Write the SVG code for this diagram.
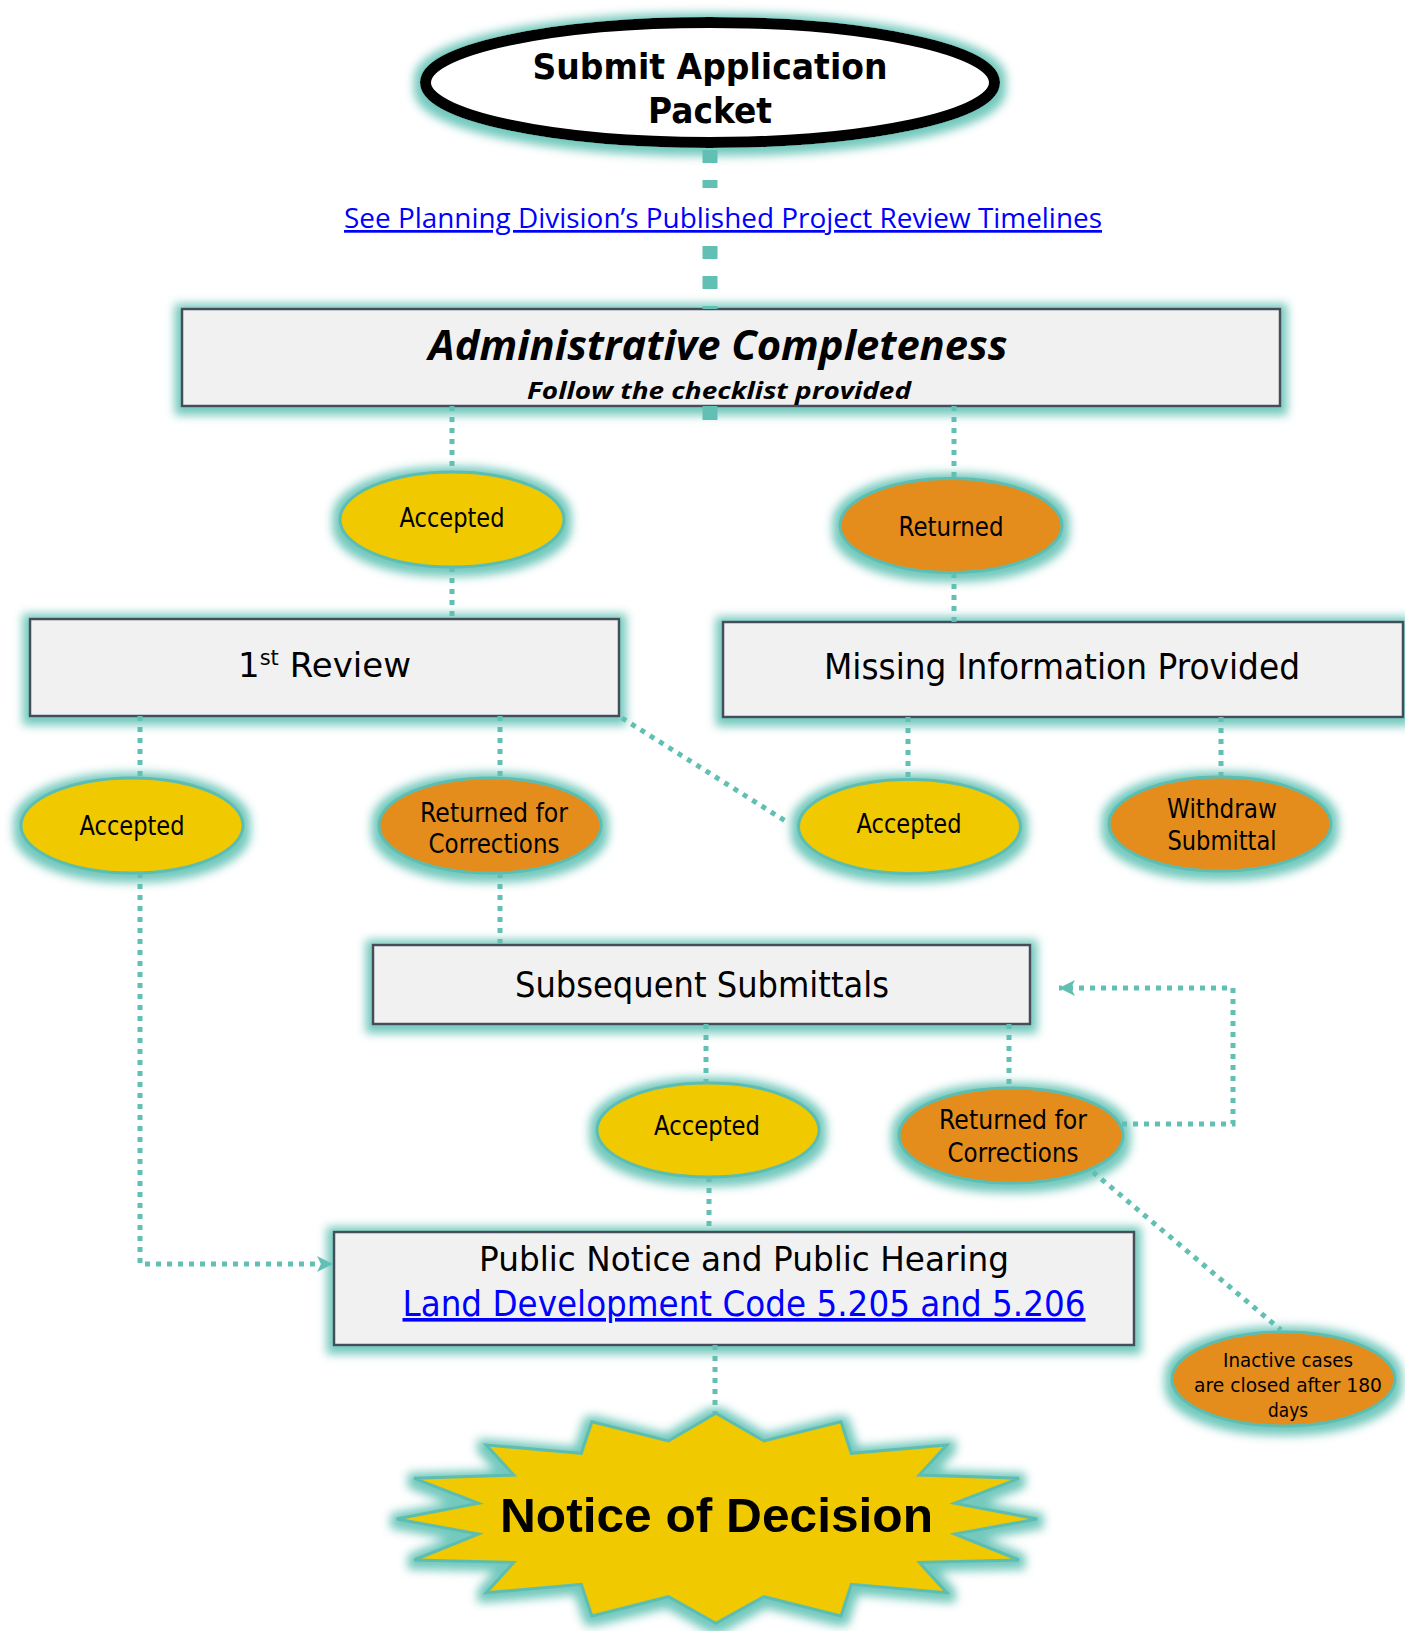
<svg xmlns="http://www.w3.org/2000/svg" width="1405" height="1631" viewBox="0 0 1405 1631">
<defs>
  <filter id="glow" x="-10%" y="-40%" width="120%" height="180%">
    <feMorphology in="SourceAlpha" operator="dilate" radius="6" result="d"/>
    <feGaussianBlur in="d" stdDeviation="5" result="b"/>
    <feOffset in="b" dx="0" dy="2" result="o"/>
    <feFlood flood-color="#6cc6ba" flood-opacity="0.95"/>
    <feComposite in2="o" operator="in" result="g"/>
    <feMerge><feMergeNode in="g"/><feMergeNode in="SourceGraphic"/></feMerge>
  </filter>
  <marker id="arrow" viewBox="0 0 16 16" refX="16" refY="8" markerWidth="16" markerHeight="16" markerUnits="userSpaceOnUse" orient="auto">
    <path d="M0,0 L16,8 L0,16 L4,8 Z" fill="#62bfb3"/>
  </marker>
  <style>
    .box { fill:#f1f1f1; stroke:#454e5a; stroke-width:2.5; filter:url(#glow); }
    .yel { fill:#f0c900; stroke:#5dbdb1; stroke-width:3; filter:url(#glow); }
    .org { fill:#e48d1a; stroke:#5dbdb1; stroke-width:3; filter:url(#glow); }
    .lbl { font-family:"DejaVu Sans","Liberation Sans",sans-serif; fill:#000; text-anchor:middle; }
    .cal { font-family:"Open Sans","Liberation Sans",sans-serif; text-anchor:middle; }
    .link { fill:#0000ff; text-decoration:underline; }
    .conn { fill:none; stroke:#62bfb3; stroke-width:5; stroke-dasharray:5 6; }
    .thick { fill:none; stroke:#62bfb3; stroke-width:15; stroke-dasharray:13 17; }
  </style>
</defs>
<rect width="1405" height="1631" fill="#ffffff"/>

<g id="nodes">
  <g id="submit">
    <ellipse cx="710" cy="82.5" rx="284.5" ry="60" fill="#ffffff" stroke="#000" stroke-width="11" filter="url(#glow)"/>
    <text class="lbl" x="710" y="79" font-size="35" font-weight="bold" textLength="355" lengthAdjust="spacingAndGlyphs">Submit Application</text>
    <text class="lbl" x="710" y="123" font-size="35" font-weight="bold" textLength="124" lengthAdjust="spacingAndGlyphs">Packet</text>
  </g>
  <g id="timelines-link">
    <text class="cal link" x="723" y="228" font-size="27" textLength="758" lengthAdjust="spacingAndGlyphs">See Planning Division’s Published Project Review Timelines</text>
  </g>
  <g id="admin">
    <rect class="box" x="182" y="309" width="1098" height="97"/>
    <text class="cal" x="718" y="360" font-size="41" font-weight="bold" font-style="italic" textLength="579" lengthAdjust="spacingAndGlyphs">Administrative Completeness</text>
    <text class="cal" x="719" y="399" font-size="24" font-weight="bold" font-style="italic" textLength="384" lengthAdjust="spacingAndGlyphs">Follow the checklist provided</text>
  </g>
  <g id="accepted1">
    <ellipse class="yel" cx="452" cy="519.5" rx="112" ry="47.5"/>
    <text class="lbl" x="452" y="527" font-size="26" textLength="105" lengthAdjust="spacingAndGlyphs">Accepted</text>
  </g>
  <g id="returned1">
    <ellipse class="org" cx="951" cy="525.5" rx="111" ry="47"/>
    <text class="lbl" x="951" y="536" font-size="26" textLength="105" lengthAdjust="spacingAndGlyphs">Returned</text>
  </g>
  <g id="first-review">
    <rect class="box" x="30" y="619" width="589" height="97"/>
    <text x="238" y="677" font-family="'DejaVu Sans','Liberation Sans',sans-serif" font-size="34">1<tspan dy="-12" font-size="21">st</tspan><tspan dy="12" font-size="34"> Review</tspan></text>
  </g>
  <g id="missing-info">
    <rect class="box" x="723" y="622" width="680" height="95"/>
    <text class="lbl" x="1062" y="679" font-size="35" textLength="476" lengthAdjust="spacingAndGlyphs">Missing Information Provided</text>
  </g>
  <g id="accepted-left">
    <ellipse class="yel" cx="132" cy="825.5" rx="111" ry="47.5"/>
    <text class="lbl" x="132" y="835" font-size="26" textLength="105" lengthAdjust="spacingAndGlyphs">Accepted</text>
  </g>
  <g id="returned-corrections-1">
    <ellipse class="org" cx="490" cy="825.5" rx="111" ry="47.5"/>
    <text class="lbl" x="494" y="822" font-size="26" textLength="148" lengthAdjust="spacingAndGlyphs">Returned for</text>
    <text class="lbl" x="494" y="853" font-size="26" textLength="131" lengthAdjust="spacingAndGlyphs">Corrections</text>
  </g>
  <g id="accepted-right">
    <ellipse class="yel" cx="909.5" cy="826.5" rx="111" ry="47"/>
    <text class="lbl" x="909" y="833" font-size="26" textLength="105" lengthAdjust="spacingAndGlyphs">Accepted</text>
  </g>
  <g id="withdraw">
    <ellipse class="org" cx="1220" cy="824" rx="111" ry="47"/>
    <text class="lbl" x="1222" y="818" font-size="26" textLength="110" lengthAdjust="spacingAndGlyphs">Withdraw</text>
    <text class="lbl" x="1222" y="850" font-size="26" textLength="109" lengthAdjust="spacingAndGlyphs">Submittal</text>
  </g>
  <g id="subsequent">
    <rect class="box" x="373" y="945" width="657" height="79"/>
    <text class="lbl" x="702" y="997" font-size="35" textLength="374" lengthAdjust="spacingAndGlyphs">Subsequent Submittals</text>
  </g>
  <g id="accepted3">
    <ellipse class="yel" cx="708" cy="1130" rx="111" ry="47"/>
    <text class="lbl" x="707" y="1135" font-size="26" textLength="106" lengthAdjust="spacingAndGlyphs">Accepted</text>
  </g>
  <g id="returned-corrections-3">
    <ellipse class="org" cx="1011" cy="1135.5" rx="112" ry="47.5"/>
    <text class="lbl" x="1013" y="1129" font-size="26" textLength="148" lengthAdjust="spacingAndGlyphs">Returned for</text>
    <text class="lbl" x="1013" y="1162" font-size="26" textLength="131" lengthAdjust="spacingAndGlyphs">Corrections</text>
  </g>
  <g id="public-notice">
    <rect class="box" x="334" y="1232" width="800" height="113"/>
    <text class="lbl" x="744" y="1271" font-size="34" textLength="530" lengthAdjust="spacingAndGlyphs">Public Notice and Public Hearing</text>
    <text class="lbl link" x="744" y="1316" font-size="36" textLength="683" lengthAdjust="spacingAndGlyphs">Land Development Code 5.205 and 5.206</text>
  </g>
  <g id="inactive">
    <ellipse class="org" cx="1283.5" cy="1379" rx="111.5" ry="47"/>
    <text class="lbl" x="1288" y="1367" font-size="20" textLength="130" lengthAdjust="spacingAndGlyphs">Inactive cases</text>
    <text class="lbl" x="1288" y="1392" font-size="20" textLength="188" lengthAdjust="spacingAndGlyphs">are closed after 180</text>
    <text class="lbl" x="1288" y="1417" font-size="20" textLength="40" lengthAdjust="spacingAndGlyphs">days</text>
  </g>
  <g id="notice-decision">
    <polygon points="715.8,1413.3 764,1441 841,1421.7 851.3,1453.3 946.8,1445 919.2,1475 1019,1478.3 954.6,1503.3 1037.2,1519 954.6,1534 1019,1560 919.2,1562.3 946.8,1592.7 851.3,1584.3 841,1616 764,1596.7 715.8,1623.3 668.5,1596.7 591.9,1616 581.3,1584.3 486.3,1592.7 513.8,1562.3 414.2,1560 478.5,1534 396.7,1519 478.5,1503.3 414.2,1478.3 513.8,1475 486.3,1445 581.3,1453.3 591.9,1421.7 668.5,1441" fill="#f0c900" stroke="#5dbdb1" stroke-width="3" stroke-linejoin="miter" filter="url(#glow)"/>
    <text x="716.5" y="1532" font-family="'Liberation Sans',Arial,sans-serif" font-size="49" font-weight="bold" text-anchor="middle" textLength="433" lengthAdjust="spacingAndGlyphs">Notice of Decision</text>
  </g>
</g>

<g id="connectors">
  <path class="thick" d="M710 150 V188"/>
  <path class="thick" d="M710 246 V309"/>
  <path d="M710 406 V420" stroke="#62bfb3" stroke-width="15" fill="none"/>
  <path class="conn" d="M452 406 V472"/>
  <path class="conn" d="M954 406 V478"/>
  <path class="conn" d="M452 567 V619"/>
  <path class="conn" d="M954 573 V622"/>
  <path class="conn" d="M140 716 V778"/>
  <path class="conn" d="M500 716 V778"/>
  <path class="conn" d="M622 718 L787 822"/>
  <path class="conn" d="M908 717 V780"/>
  <path class="conn" d="M1221 717 V777"/>
  <path class="conn" d="M140 873 V1264 H333" marker-end="url(#arrow)"/>
  <path class="conn" d="M500 873 V945"/>
  <path class="conn" d="M706 1024 V1083"/>
  <path class="conn" d="M1009 1024 V1088"/>
  <path class="conn" d="M1122 1124 H1233 V988 H1059" marker-end="url(#arrow)"/>
  <path class="conn" d="M1093 1172 L1281 1330"/>
  <path class="conn" d="M709 1177 V1232"/>
  <path class="conn" d="M715 1345 V1413"/>
</g>
</svg>
